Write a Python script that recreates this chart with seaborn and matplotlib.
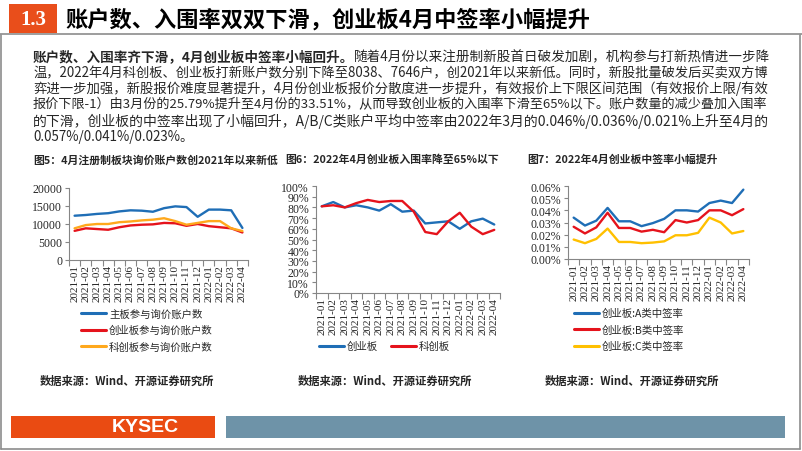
import numpy as np
import pandas as pd
import seaborn as sns
import matplotlib.pyplot as plt
from matplotlib.lines import Line2D
from matplotlib.patches import Rectangle
from matplotlib.ticker import FixedLocator, FuncFormatter

# ---- data ----
months = ['2021-01', '2021-02', '2021-03', '2021-04', '2021-05', '2021-06', '2021-07', '2021-08',
          '2021-09', '2021-10', '2021-11', '2021-12', '2022-01', '2022-02', '2022-03', '2022-04']

main_accounts = [12300, 12500, 12800, 13000, 13500, 13800, 13700, 13400,
                 14400, 14900, 14700, 12000, 14000, 14000, 13800, 8900]
gem_accounts = [8100, 8800, 8600, 8400, 9100, 9600, 9800, 9900,
                10300, 10200, 9500, 10000, 9400, 9100, 8800, 7646]
star_accounts = [8800, 9700, 10000, 10000, 10500, 10700, 11000, 11200,
                 11600, 10800, 9800, 10300, 10800, 10800, 8800, 8038]

gem_entry = [81, 85, 80, 82, 80, 77, 83, 76, 77, 65, 66, 67, 60, 67, 69.5, 64]
star_entry = [81, 82, 80, 84, 87, 85, 86, 86, 76, 57, 55, 67, 75, 62, 55, 59]

rate_a = [0.034, 0.0275, 0.0315, 0.042, 0.031, 0.031, 0.027, 0.0295,
          0.033, 0.040, 0.040, 0.039, 0.046, 0.048, 0.046, 0.057]
rate_b = [0.0265, 0.021, 0.026, 0.038, 0.0255, 0.0255, 0.0225, 0.024,
          0.022, 0.032, 0.030, 0.032, 0.040, 0.040, 0.036, 0.041]
rate_c = [0.016, 0.013, 0.0165, 0.025, 0.014, 0.014, 0.013, 0.0135,
          0.0145, 0.0195, 0.0195, 0.0215, 0.034, 0.030, 0.021, 0.023]

header_no = '1.3'
header_title = '账户数、入围率双双下滑，创业板4月中签率小幅提升'
para_bold = '账户数、入围率齐下滑，4月创业板中签率小幅回升。'
para_lines = [
    '随着4月份以来注册制新股首日破发加剧，机构参与打新热情进一步降',
    '温，2022年4月科创板、创业板打新账户数分别下降至8038、7646户，创2021年以来新低。同时，新股批量破发后买卖双方博',
    '弈进一步加强，新股报价难度显著提升，4月份创业板报价分散度进一步提升，有效报价上下限区间范围（有效报价上限/有效',
    '报价下限-1）由3月份的25.79%提升至4月份的33.51%，从而导致创业板的入围率下滑至65%以下。账户数量的减少叠加入围率',
    '的下滑，创业板的中签率出现了小幅回升，A/B/C类账户平均中签率由2022年3月的0.046%/0.036%/0.021%上升至4月的',
    '0.057%/0.041%/0.023%。',
]
chart_titles = ['图5：4月注册制板块询价账户数创2021年以来新低',
                '图6：2022年4月创业板入围率降至65%以下',
                '图7：2022年4月创业板中签率小幅提升']
source = '数据来源：Wind、开源证券研究所'

BLUE = '#1F6EB6'
RED = '#E5131C'
ORANGE = '#FFA81C'
YELLOW = '#FFC000'
KY_ORANGE = '#E94E1B'

sns.set_theme(style='white')
plt.rcParams['font.family'] = ['Noto Sans CJK SC', 'DejaVu Sans']

W, H = 802, 452
fig = plt.figure(figsize=(W / 100, H / 100), dpi=100)


def fx(x):
    return x / W


def fy(y):
    return 1 - y / H


def box(l, t, r, b):
    return [fx(l), fy(b), (r - l) / W, (b - t) / H]


# ---- frame, header, footer ----
for (x0, y0, x1, y1) in [(1, 36, 1, 450), (800, 36, 800, 450), (1, 450, 800, 450), (0, 35, 802, 35)]:
    fig.add_artist(Line2D([fx(x0), fx(x1)], [fy(y0), fy(y1)], color='#8C8C8C', lw=1.2))
fig.add_artist(Rectangle((fx(9), fy(34)), 48 / W, 29 / H, color=KY_ORANGE, lw=0))
fig.text(fx(33), fy(20), header_no, color='white', fontsize=15, fontweight='bold',
         family='Liberation Serif', ha='center', va='center')
fig.text(fx(65), fy(20), header_title, color='black', fontsize=16, fontweight='bold',
         ha='left', va='center')

fig.add_artist(Rectangle((fx(11), fy(439)), 204 / W, 22 / H, color='#EA4B12', lw=0))
fig.text(fx(145), fy(428), 'KYSEC', color='white', fontsize=14, fontweight='bold',
         family='Liberation Sans', ha='center', va='center')
fig.add_artist(Rectangle((fx(226), fy(439)), 559 / W, 22 / H, color='#6E93A8', lw=0))

# ---- paragraph ----
fig.canvas.draw()
renderer = fig.canvas.get_renderer()
left, right = 33, 770
line_y = [57, 73, 89, 105, 121, 137]
base = 9.6
for i, txt in enumerate(para_lines):
    y = line_y[i]
    parts = []
    if i == 0:
        parts.append(fig.text(fx(left), fy(y), para_bold, fontsize=base, fontweight='bold',
                              ha='left', va='center'))
    parts.append(fig.text(fx(left), fy(y), txt, fontsize=base, ha='left', va='center'))
    # justify all but last line
    if i < len(para_lines) - 1:
        widths = [p.get_window_extent(renderer).width for p in parts]
        scale = (right - left) / sum(widths)
        for p in parts:
            p.set_fontsize(base * scale)
    if len(parts) == 2:
        w0 = parts[0].get_window_extent(renderer).width
        parts[1].set_x(fx(left + w0))

# ---- chart titles & sources ----
for tx, title in zip([33, 285, 527], chart_titles):
    fig.text(fx(tx), fy(160), title, fontsize=7.8, fontweight='bold', ha='left', va='center')
for sx in [40, 298, 545]:
    fig.text(fx(sx), fy(381), source, fontsize=8.1, fontweight='bold', ha='left', va='center')


def style_axes(ax, ymax, ystep, fmt):
    n = len(months)
    ax.set_xlim(-0.5, n - 0.5)
    ax.set_ylim(0, ymax)
    ax.set_xticks(range(n))
    ax.set_xticklabels(months, rotation=90, family='Liberation Serif', fontsize=8)
    ax.xaxis.set_minor_locator(FixedLocator(np.arange(-0.5, n, 1.0)))
    ax.tick_params(axis='x', which='major', length=0, pad=3)
    ax.tick_params(axis='x', which='minor', length=4, width=0.8, color='#868686', direction='out', bottom=True)
    ax.set_yticks(np.arange(0, ymax + ystep / 2, ystep))
    ax.yaxis.set_major_formatter(FuncFormatter(fmt))
    ax.tick_params(axis='y', length=3, width=0.8, color='#868686', direction='out', left=True, pad=2,
                   labelsize=8.5)
    for lab in ax.get_yticklabels():
        lab.set_family('Liberation Serif')
    for s in ['top', 'right']:
        ax.spines[s].set_visible(False)
    for s in ['left', 'bottom']:
        ax.spines[s].set_color('#868686')
        ax.spines[s].set_linewidth(0.8)
    ax.set_xlabel('')
    ax.set_ylabel('')
    ax.grid(False)
    ax.set_facecolor('none')


def add_legend(handles, labels, x, y, ncol=1, spacing=0.62):
    fig.legend(handles, labels, loc='upper left', bbox_to_anchor=(fx(x), fy(y)),
               bbox_transform=fig.transFigure, frameon=False, ncol=ncol, fontsize=7.5,
               handlelength=2.4, handletextpad=0.3, borderpad=0, borderaxespad=0,
               labelspacing=spacing, columnspacing=1.2)


# ---- chart 5 ----
df5 = pd.DataFrame({'month': months, '主板参与询价账户数': main_accounts,
                    '创业板参与询价账户数': gem_accounts, '科创板参与询价账户数': star_accounts})
df5 = df5.melt('month', var_name='series', value_name='value')
ax1 = fig.add_axes(box(69, 189, 248, 261))
sns.lineplot(data=df5, x='month', y='value', hue='series', ax=ax1, linewidth=1.7,
             palette=[BLUE, RED, ORANGE], legend=False)
style_axes(ax1, 20000, 5000, lambda v, p: f'{v:.0f}')
h5 = [Line2D([], [], color=c, lw=2.2) for c in [BLUE, RED, ORANGE]]
add_legend(h5, ['主板参与询价账户数', '创业板参与询价账户数', '科创板参与询价账户数'], 81, 309)

# ---- chart 6 ----
df6 = pd.DataFrame({'month': months, '创业板': gem_entry, '科创板': star_entry})
df6 = df6.melt('month', var_name='series', value_name='value')
ax2 = fig.add_axes(box(316, 187, 500, 294))
sns.lineplot(data=df6, x='month', y='value', hue='series', ax=ax2, linewidth=1.7,
             palette=[BLUE, RED], legend=False)
style_axes(ax2, 100, 10, lambda v, p: f'{v:.0f}%')
h6 = [Line2D([], [], color=c, lw=2.2) for c in [BLUE, RED]]
add_legend(h6, ['创业板', '科创板'], 319, 342, ncol=2)

# ---- chart 7 ----
df7 = pd.DataFrame({'month': months, '创业板:A类中签率': rate_a,
                    '创业板:B类中签率': rate_b, '创业板:C类中签率': rate_c})
df7 = df7.melt('month', var_name='series', value_name='value')
ax3 = fig.add_axes(box(568, 187, 749, 260))
sns.lineplot(data=df7, x='month', y='value', hue='series', ax=ax3, linewidth=1.7,
             palette=[BLUE, RED, YELLOW], legend=False)
style_axes(ax3, 0.06, 0.01, lambda v, p: f'{v:.2f}%')
h7 = [Line2D([], [], color=c, lw=2.2) for c in [BLUE, RED, YELLOW]]
add_legend(h7, ['创业板:A类中签率', '创业板:B类中签率', '创业板:C类中签率'], 574, 309)

fig.savefig('out.png', dpi=100)
